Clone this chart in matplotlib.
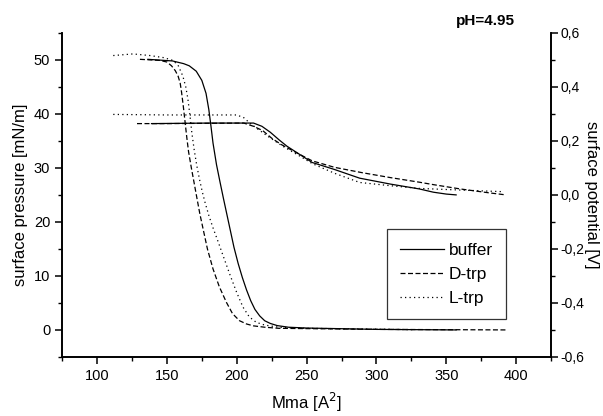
import matplotlib
matplotlib.use("Agg")
import matplotlib.pyplot as plt
from matplotlib.ticker import MultipleLocator, FuncFormatter

plt.rcParams['font.family'] = ['Liberation Sans', 'DejaVu Sans']

# surface pressure isotherms (left axis, mN/m)
buf_area = [136.4, 154.0, 162.0, 166.0, 171.0, 175.0, 178.0, 180.0, 181.5, 183.0, 185.5,
            188.0, 190.5, 193.0, 195.5, 198.0, 201.0, 204.0, 207.0, 210.0, 213.0, 216.4,
            220.0, 224.0, 229.0, 237.0, 250.0, 300.0, 357.0]
buf_pres = [50.1, 49.8, 49.3, 48.9, 47.9, 46.2, 43.8, 40.8, 37.8, 34.6, 30.6,
            27.4, 24.3, 21.3, 18.3, 15.3, 12.3, 9.7, 7.4, 5.4, 3.8, 2.6,
            1.7, 1.2, 0.8, 0.5, 0.35, 0.1, 0.0]

dtrp_area = [130.7, 145.0, 150.0, 153.3, 156.0, 158.0, 159.5, 160.5, 161.7, 163.0, 164.3,
             165.5, 167.5, 169.5, 171.2, 173.5, 175.9, 179.0, 183.0, 187.5, 192.6, 197.0,
             202.0, 207.0, 212.0, 220.0, 230.0, 300.0, 393.0]
dtrp_pres = [50.1, 49.9, 49.6, 48.9, 48.0, 47.0, 45.7, 44.0, 41.5, 38.5, 35.5,
             33.0, 30.0, 27.2, 24.8, 21.6, 18.7, 15.0, 11.3, 8.0, 5.1, 3.0,
             1.7, 1.1, 0.75, 0.5, 0.3, 0.1, 0.0]

ltrp_area = [111.6, 125.7, 137.9, 148.0, 154.3, 158.0, 161.4, 163.5, 165.0, 166.5, 167.8,
             169.5, 171.4, 173.4, 175.3, 177.3, 180.0, 183.0, 186.0, 190.0, 195.0, 200.0,
             204.5, 209.0, 214.0, 220.0, 230.0, 250.0, 326.0]
ltrp_pres = [50.8, 51.1, 50.8, 50.4, 49.9, 49.0, 47.0, 45.0, 42.8, 39.7, 36.6,
             33.4, 30.4, 27.8, 25.6, 23.6, 21.2, 18.9, 16.8, 13.9, 10.3, 6.9,
             4.2, 2.4, 1.4, 0.9, 0.5, 0.3, 0.05]

# surface potential (right axis, V)
buf_parea = [139.0, 180.0, 212.0, 218.0, 224.0, 230.7, 236.0, 242.6, 254.0, 270.0,
             287.9, 310.0, 330.7, 340.7, 350.0, 357.0]
buf_pot = [0.264, 0.266, 0.266, 0.254, 0.232, 0.202, 0.180, 0.158, 0.120, 0.094,
           0.062, 0.040, 0.022, 0.010, 0.003, 0.000]

dtrp_parea = [128.6, 150.0, 205.0, 212.0, 218.6, 225.0, 232.0, 245.0, 254.0, 270.0,
              290.0, 310.0, 330.7, 340.7, 360.0, 380.0, 392.6]
dtrp_pot = [0.264, 0.264, 0.266, 0.254, 0.238, 0.210, 0.186, 0.150, 0.126, 0.102,
            0.082, 0.064, 0.047, 0.038, 0.022, 0.008, 0.000]

ltrp_parea = [111.6, 150.0, 200.0, 205.0, 209.3, 215.0, 222.0, 233.0, 245.0, 254.0,
              270.0, 288.0, 310.0, 330.7, 350.0, 370.0, 390.0]
ltrp_pot = [0.298, 0.296, 0.296, 0.286, 0.266, 0.244, 0.218, 0.180, 0.144, 0.116,
            0.080, 0.046, 0.034, 0.024, 0.020, 0.016, 0.012]

fig = plt.figure(figsize=(6.03, 4.16), dpi=100)
ax = fig.add_axes([0.103, 0.142, 0.811, 0.779])
ax2 = ax.twinx()

lw = 0.9
dash = (0, (4, 2))
dot = (0, (1, 2.6))
ax.plot(buf_area, buf_pres, color='black', lw=lw, ls='-', label='buffer')
ax.plot(dtrp_area, dtrp_pres, color='black', lw=lw, ls=dash, label='D-trp')
ax.plot(ltrp_area, ltrp_pres, color='black', lw=lw, ls=dot, label='L-trp')

ax2.plot(buf_parea, buf_pot, color='black', lw=lw, ls='-')
ax2.plot(dtrp_parea, dtrp_pot, color='black', lw=lw, ls=dash)
ax2.plot(ltrp_parea, ltrp_pot, color='black', lw=lw, ls=dot)

ax.set_xlim(75, 425)
ax.set_ylim(-5, 55)
ax2.set_ylim(-0.6, 0.6)

for a in (ax, ax2):
    a.spines['top'].set_visible(False)
    for s in a.spines.values():
        s.set_linewidth(1.2)

ax.xaxis.set_major_locator(MultipleLocator(50))
ax.xaxis.set_minor_locator(MultipleLocator(25))
ax.yaxis.set_major_locator(MultipleLocator(10))
ax.yaxis.set_minor_locator(MultipleLocator(5))
ax2.yaxis.set_major_locator(MultipleLocator(0.2))
ax2.yaxis.set_minor_locator(MultipleLocator(0.1))
ax2.yaxis.set_major_formatter(FuncFormatter(lambda v, p: ('%.1f' % v).replace('.', ',')))

ax.tick_params(which='major', length=5, width=1.1, labelsize=10.5, direction='out')
ax.tick_params(which='minor', length=3, width=1.0, direction='out')
ax2.tick_params(which='major', length=5, width=1.1, labelsize=10, direction='out', pad=2)
ax2.tick_params(which='minor', length=3, width=1.0, direction='out')

ax.set_xlabel('Mma [A$^2$]', fontsize=12, labelpad=6)
ax.set_ylabel('surface pressure [mN/m]', fontsize=12, labelpad=4)
ax2.set_ylabel('surface potential [V]', fontsize=12, rotation=270, labelpad=10)

ax.text(0.865, 1.036, 'pH=4.95', transform=ax.transAxes, fontsize=11,
        fontweight='bold', ha='center', va='center')

leg = ax.legend(loc='lower left', bbox_to_anchor=(0.665, 0.117), fontsize=12.5,
                frameon=True, fancybox=False, handlelength=2.5, handletextpad=0.3,
                borderpad=0.75, labelspacing=0.52, borderaxespad=0)
leg.get_frame().set_edgecolor('black')
leg.get_frame().set_linewidth(0.9)

fig.savefig('out.png', dpi=100)
